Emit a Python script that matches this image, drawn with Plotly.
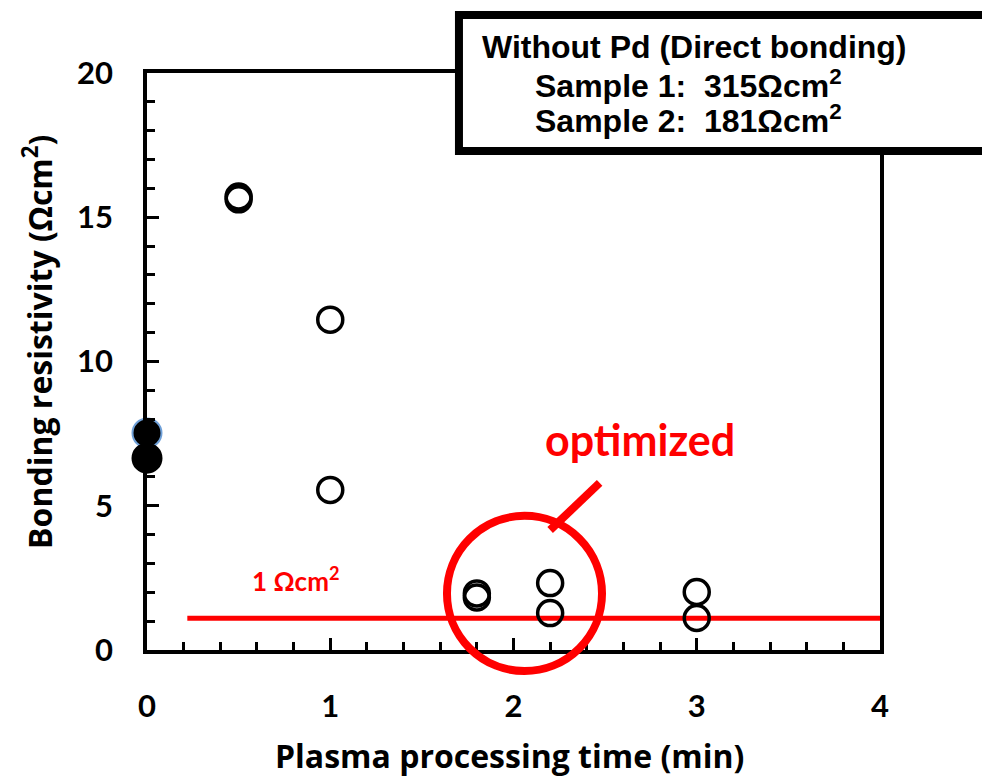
import plotly.graph_objects as go

# ---- data ----
filled_x = [0, 0]
filled_y = [7.52, 6.65]
open_x = [0.5, 0.5, 1.0, 1.0, 1.8, 1.8, 2.2, 2.2, 3.0, 3.0]
open_y = [15.62, 15.72, 11.45, 5.55, 1.96, 1.82, 2.32, 1.28, 2.01, 1.11]
ref_line_x = [0.22, 4.0]
ref_line_y = [1.1, 1.1]
x_ticks = [0, 1, 2, 3, 4]
y_ticks = [0, 5, 10, 15, 20]
x_range = [0, 4]
y_range = [0, 20]

# helpers: data -> paper coordinates
def px(x):
    return (x - x_range[0]) / (x_range[1] - x_range[0])

def py(y):
    return (y - y_range[0]) / (y_range[1] - y_range[0])

fig = go.Figure()

fig.add_trace(go.Scatter(
    x=ref_line_x, y=ref_line_y, mode="lines",
    line=dict(color="#ff0000", width=5), showlegend=False, hoverinfo="skip"))

fig.add_trace(go.Scatter(
    x=open_x, y=open_y, mode="markers", cliponaxis=False,
    marker=dict(symbol="circle", size=25, color="rgba(0,0,0,0)",
                line=dict(color="black", width=3.5)),
    showlegend=False))

fig.add_trace(go.Scatter(
    x=filled_x, y=filled_y, mode="markers", cliponaxis=False,
    marker=dict(symbol="circle", size=29, color="black",
                line=dict(color=["#6fa0d8", "black"], width=2)),
    showlegend=False))

tick_font = dict(family="Lato", size=31, color="black", weight="bold")

fig.update_xaxes(
    range=x_range, tickvals=x_ticks, ticks="inside", ticklen=12, tickwidth=3,
    tickcolor="black", showline=True, linewidth=3.5, linecolor="black",
    mirror=True, showgrid=False, zeroline=False, automargin=False,
    tickfont=tick_font, ticklabelstandoff=26,
    minor=dict(dtick=0.2, ticks="inside", ticklen=8, tickwidth=3, tickcolor="black", showgrid=False),
)
fig.update_yaxes(
    range=y_range, tickvals=y_ticks, ticks="inside", ticklen=12, tickwidth=3,
    tickcolor="black", showline=True, linewidth=3.5, linecolor="black",
    mirror=True, showgrid=False, zeroline=False, automargin=False,
    tickfont=tick_font, ticklabelstandoff=24,
    minor=dict(dtick=1, ticks="inside", ticklen=8, tickwidth=3, tickcolor="black", showgrid=False),
)

shapes = [
    # red highlight circle (extends below the axis)
    dict(type="circle", xref="paper", yref="paper",
         x0=px(2.06 - 0.423), x1=px(2.06 + 0.423),
         y0=py(1.96 - 2.69), y1=py(1.96 + 2.69),
         line=dict(color="#ff0000", width=8), layer="above"),
    # pointer line
    dict(type="line", xref="x", yref="y", x0=2.2, y0=4.16, x1=2.47, y1=5.79,
         line=dict(color="#ff0000", width=8), layer="above"),
    # info box
    dict(type="rect", xref="paper", yref="paper",
         x0=0.4256, x1=1.2, y0=0.865, y1=1.1005,
         line=dict(color="black", width=8), fillcolor="white", layer="above"),
]

box_font = dict(family="Liberation Sans", size=32, color="black", weight="bold")
title_font = dict(family="Open Sans", size=32, color="black", weight="bold")
annotations = [
    dict(text="Without Pd (Direct bonding)", xref="paper", yref="paper",
         x=0.454, y=1.045, xanchor="left", yanchor="middle", showarrow=False, font=box_font),
    dict(text="Sample 1:  315Ωcm<sup>2</sup>", xref="paper", yref="paper",
         x=0.527, y=0.981, xanchor="left", yanchor="middle", showarrow=False, font=box_font),
    dict(text="Sample 2:  181Ωcm<sup>2</sup>", xref="paper", yref="paper",
         x=0.527, y=0.920, xanchor="left", yanchor="middle", showarrow=False, font=box_font),
    dict(text="optimized", xref="x", yref="y", x=2.69, y=7.3, showarrow=False,
         font=dict(family="Lato", size=43, color="#ff0000", weight="bold")),
    dict(text="1 Ωcm<sup>2</sup>", xref="x", yref="y", x=0.81, y=2.45, showarrow=False,
         font=dict(family="Lato", size=26, color="#ff0000", weight="bold")),
    # axis titles
    dict(text="Plasma processing time (min)", xref="paper", yref="paper",
         x=0.495, y=-0.182, xanchor="center", yanchor="middle", showarrow=False, font=title_font),
    dict(text="Bonding resistivity (Ωcm<sup>2</sup>)", xref="paper", yref="paper",
         x=-0.150, y=0.534, xanchor="center", yanchor="middle", textangle=-90,
         showarrow=False, font=dict(family="Open Sans", size=32, color="black", weight="bold")),
]

fig.update_layout(
    width=990, height=776,
    margin=dict(l=139, r=118, t=65, b=134),
    paper_bgcolor="white", plot_bgcolor="white",
    shapes=shapes, annotations=annotations, showlegend=False,
)

fig.write_html("out.html")
